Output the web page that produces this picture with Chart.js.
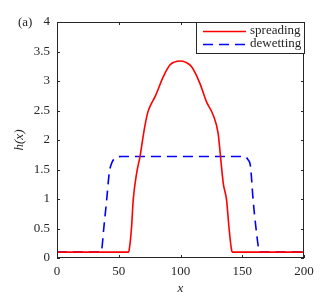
<!DOCTYPE html>
<html>
<head>
<meta charset="utf-8">
<script src="https://cdn.jsdelivr.net/npm/chart.js@4"></script>
<style>
  html, body { margin: 0; padding: 0; background: #fff; }
  #wrap { width: 335px; height: 296px; }
</style>
</head>
<body>
<div id="wrap"><canvas id="chart"></canvas></div>
<script>
// Values
const spreadX = [0, 58, 58.5, 60.4, 61.7, 64.5, 67.2, 69.3, 71, 73.4, 76, 79.3, 86, 91.4, 95, 99.5, 104, 109, 115.7, 121, 126.5, 130.5, 131.9, 134.6, 137.3, 139.2, 141.3, 142, 200];
const spreadH = [0.1, 0.1, 0.14, 0.53, 0.98, 1.44, 1.72, 2.0, 2.22, 2.46, 2.6, 2.73, 3.07, 3.27, 3.32, 3.34, 3.32, 3.24, 2.96, 2.65, 2.42, 2.11, 1.83, 1.27, 0.98, 0.53, 0.14, 0.1, 0.1];
const dewetX = [0, 35.5, 36.2, 38, 40.2, 42.3, 44.5, 46.9, 52.3, 100, 152, 154.5, 156.7, 158.8, 161, 163.4, 164, 200];
const dewetH = [0.1, 0.1, 0.14, 0.53, 0.98, 1.44, 1.62, 1.69, 1.72, 1.72, 1.72, 1.67, 1.55, 0.98, 0.53, 0.14, 0.1, 0.1];
const xTicks = [0, 50, 100, 150, 200];
const yTicks = [0, 0.5, 1, 1.5, 2, 2.5, 3, 3.5, 4];

const ink = "#262626";
const serif = "'Liberation Serif', 'DejaVu Serif', serif";

function toPoints(xs, ys) {
  return xs.map((x, i) => ({ x: x, y: ys[i] }));
}

// Box frame, inward ticks, legend and panel label
const framePlugin = {
  id: "frame",
  afterDatasetsDraw(chart) {
    const { ctx, chartArea: a, scales } = chart;
    ctx.save();
    ctx.strokeStyle = ink;
    ctx.lineWidth = 1;
    ctx.strokeRect(a.left + 0.5, a.top + 0.5, a.right - a.left - 1, a.bottom - a.top - 1);
    ctx.beginPath();
    xTicks.forEach((v) => {
      const px = Math.round(scales.x.getPixelForValue(v)) + 0.5;
      ctx.moveTo(px, a.bottom); ctx.lineTo(px, a.bottom - 3);
      ctx.moveTo(px, a.top); ctx.lineTo(px, a.top + 3);
    });
    yTicks.forEach((v) => {
      const py = Math.round(scales.y.getPixelForValue(v)) + 0.5;
      ctx.moveTo(a.left, py); ctx.lineTo(a.left + 3, py);
      ctx.moveTo(a.right, py); ctx.lineTo(a.right - 3, py);
    });
    ctx.stroke();

    // legend box
    const lx = 196, ly = 22, lw = 109, lh = 32;
    ctx.fillStyle = "#fff";
    ctx.fillRect(lx, ly, lw, lh);
    ctx.strokeStyle = ink;
    ctx.strokeRect(lx + 0.5, ly + 0.5, lw - 1, lh - 1);
    ctx.lineWidth = 1.5;
    ctx.strokeStyle = "#ff0000";
    ctx.beginPath(); ctx.moveTo(203, 31.5); ctx.lineTo(246, 31.5); ctx.stroke();
    ctx.strokeStyle = "#0000ff";
    ctx.setLineDash([10, 6]);
    ctx.beginPath(); ctx.moveTo(203, 44.5); ctx.lineTo(246, 44.5); ctx.stroke();
    ctx.setLineDash([]);
    ctx.fillStyle = ink;
    ctx.font = "13px " + serif;
    ctx.textBaseline = "middle";
    ctx.textAlign = "left";
    ctx.fillText("spreading", 250, 31);
    ctx.fillText("dewetting", 250, 44);

    ctx.fillText("(a)", 18, 23);
    ctx.restore();
  },
};

new Chart(document.getElementById("chart"), {
  type: "line",
  data: {
    datasets: [
      {
        label: "spreading",
        data: toPoints(spreadX, spreadH),
        borderColor: "#ff0000",
        borderWidth: 1.6,
        pointRadius: 0,
        cubicInterpolationMode: "monotone",
        fill: false,
      },
      {
        label: "dewetting",
        data: toPoints(dewetX, dewetH),
        borderColor: "#0000ff",
        borderWidth: 1.6,
        borderDash: [10, 6],
        pointRadius: 0,
        cubicInterpolationMode: "monotone",
        fill: false,
      },
    ],
  },
  options: {
    responsive: true,
    maintainAspectRatio: false,
    animation: false,
    layout: { padding: { top: 22, right: 31, left: 0, bottom: 0 } },
    plugins: { legend: { display: false }, tooltip: { enabled: false } },
    scales: {
      x: {
        type: "linear",
        min: 0,
        max: 200,
        afterBuildTicks: (s) => { s.ticks = xTicks.map((v) => ({ value: v })); },
        afterFit: (s) => { s.height = 38; },
        grid: { display: false, drawTicks: false },
        border: { display: false },
        ticks: { color: ink, padding: 6, maxRotation: 0, font: { family: serif, size: 13 }, callback: (v) => String(v) },
        title: { display: true, text: "x", color: ink, padding: { top: 0, bottom: 0 }, font: { family: serif, size: 13, style: "italic" } },
      },
      y: {
        type: "linear",
        min: 0,
        max: 4,
        afterBuildTicks: (s) => { s.ticks = yTicks.map((v) => ({ value: v })); },
        afterFit: (s) => { s.width = 57; },
        grid: { display: false, drawTicks: false },
        border: { display: false },
        ticks: { color: ink, padding: 7, font: { family: serif, size: 13 }, callback: (v) => String(v) },
        title: { display: true, text: "h(x)", color: ink, padding: { top: 12, bottom: 0 }, font: { family: serif, size: 13, style: "italic" } },
      },
    },
  },
  plugins: [framePlugin],
});
</script>
</body>
</html>
